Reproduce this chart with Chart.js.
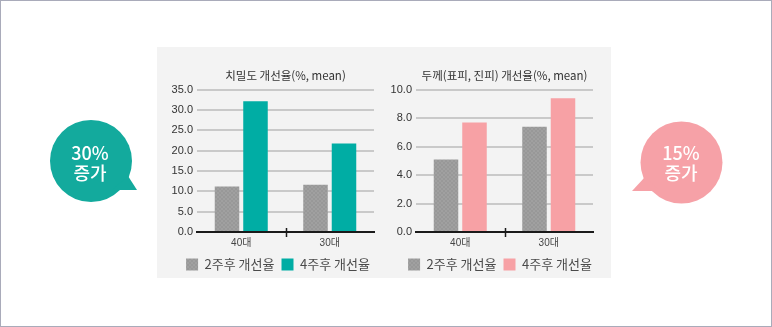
<!DOCTYPE html>
<html lang="ko">
<head>
<meta charset="utf-8">
<script src="https://cdn.jsdelivr.net/npm/chart.js@4.4.1/dist/chart.umd.min.js"></script>
<style>
  html, body { margin: 0; padding: 0; background: #fff; }
  #frame { position: absolute; left: 0; top: 0; width: 772px; height: 327px; box-sizing: border-box; border: 1px solid #a9abba; }
  #panel { position: absolute; left: 157px; top: 47px; width: 454px; height: 231px; background: #f3f3f3; }
  .box { position: absolute; top: 47px; height: 234px; }
  #boxDensity { left: 150px; width: 256px; }
  #boxThick { left: 380px; width: 240px; }
  svg { position: absolute; left: 0; top: 0; }
  svg text { font-family: 'Noto Sans CJK KR', sans-serif; font-size: 18px; font-weight: 500; fill: #fff; }
</style>
</head>
<body>
<div id="frame"></div>
<div id="panel"></div>
<div class="box" id="boxDensity"><canvas id="densityChart" width="256" height="234"></canvas></div>
<div class="box" id="boxThick"><canvas id="thickChart" width="240" height="234"></canvas></div>
<svg width="772" height="327">
  <circle cx="91" cy="161" r="41" fill="#13aa9d"></circle>
  <polygon points="112,190 128,176 137,190" fill="#13aa9d"></polygon>
  <text x="90" y="152" text-anchor="middle" dominant-baseline="central">30%</text>
  <text x="90" y="172" text-anchor="middle" dominant-baseline="central">증가</text>
  <circle cx="681.5" cy="162.5" r="41" fill="#f6a1a7"></circle>
  <polygon points="660,191 645,177 632,191" fill="#f6a1a7"></polygon>
  <text x="681" y="152" text-anchor="middle" dominant-baseline="central">15%</text>
  <text x="681" y="172" text-anchor="middle" dominant-baseline="central">증가</text>
</svg>
<script>
// 연령대별 평균 개선율
const categories = ['40대', '30대'];
const seriesNames = ['2주후 개선율', '4주후 개선율'];

const density2w = [11.2, 11.6];
const density4w = [32.2, 21.8];
const thick2w = [5.1, 7.4];
const thick4w = [7.7, 9.4];

const NUM_FONT = "'Liberation Sans Narrow', 'Liberation Sans', 'Noto Sans CJK KR', sans-serif";
const KR_FONT = "'Noto Sans CJK KR', sans-serif";

// 회색 막대용 잔무늬 패턴
function grayHatch() {
    const c = document.createElement('canvas');
    c.width = 4; c.height = 4;
    const g = c.getContext('2d');
    g.fillStyle = '#a0a0a0';
    g.fillRect(0, 0, 4, 4);
    g.fillStyle = '#989898';
    for (let i = 0; i < 4; i++) {
        g.fillRect(i, i, 1, 1);
        g.fillRect(3 - i, i, 1, 1);
    }
    return g.createPattern(c, 'repeat');
}

// 두 카테고리 사이의 x축 눈금
const midTick = {
    id: 'midTick',
    afterDraw(chart) {
        const x = chart.scales.x;
        const ctx = chart.ctx;
        const y = chart.chartArea.bottom;
        const px = Math.round((x.getPixelForValue(0) + x.getPixelForValue(1)) / 2) + 0.5;
        ctx.save();
        ctx.strokeStyle = '#1a1a1a';
        ctx.lineWidth = 1.5;
        ctx.beginPath();
        ctx.moveTo(px, y - 4);
        ctx.lineTo(px, y + 5);
        ctx.stroke();
        ctx.restore();
    }
};

function makeChart(id, title, d2, d4, color4, yMax, yStep, yWidth, rightGap) {
    const ctx = document.getElementById(id).getContext('2d');
    return new Chart(ctx, {
        type: 'bar',
        data: {
            labels: categories,
            datasets: [
                { label: seriesNames[0], data: d2, backgroundColor: grayHatch(), borderWidth: 0 },
                { label: seriesNames[1], data: d4, backgroundColor: color4, borderWidth: 0 }
            ]
        },
        options: {
            responsive: false,
            animation: false,
            events: [],
            categoryPercentage: 0.644,
            barPercentage: 0.86,
            layout: { padding: 0 },
            plugins: {
                tooltip: { enabled: false },
                title: {
                    display: true,
                    text: title,
                    fullSize: false,
                    color: '#333',
                    font: { family: KR_FONT, size: 11.5, weight: 'normal' },
                    padding: { top: 22, bottom: 7 }
                },
                legend: {
                    position: 'bottom',
                    labels: {
                        boxWidth: 12,
                        boxHeight: 12,
                        padding: 7,
                        color: '#4a4a4a',
                        font: { family: KR_FONT, size: 13 }
                    }
                }
            },
            scales: {
                x: {
                    grid: { display: false, drawTicks: false },
                    border: { display: true, color: '#1a1a1a', width: 2 },
                    ticks: { color: '#444', padding: 5, font: { family: NUM_FONT, size: 10 } },
                    afterFit: s => { s.height = 19; }
                },
                y: {
                    min: 0,
                    max: yMax,
                    ticks: {
                        stepSize: yStep,
                        padding: 4,
                        color: '#333',
                        font: { family: NUM_FONT, size: 11 },
                        callback: v => v.toFixed(1)
                    },
                    grid: { color: '#c9c9c9', lineWidth: 2, drawTicks: false },
                    border: { display: false },
                    afterFit: s => { s.width = yWidth; }
                },
                // 오른쪽 여백용 빈 축
                pad: {
                    position: 'right',
                    display: true,
                    ticks: { display: false },
                    grid: { display: false, drawTicks: false },
                    border: { display: false },
                    afterFit: s => { s.width = rightGap; }
                }
            }
        },
        plugins: [midTick]
    });
}

makeChart('densityChart', '치밀도 개선율(%, mean)', density2w, density4w, '#00ada4', 35, 5, 47, 32);
makeChart('thickChart', '두께(표피, 진피) 개선율(%, mean)', thick2w, thick4w, '#f7a1a5', 10, 2, 36, 27);
</script>
</body>
</html>
